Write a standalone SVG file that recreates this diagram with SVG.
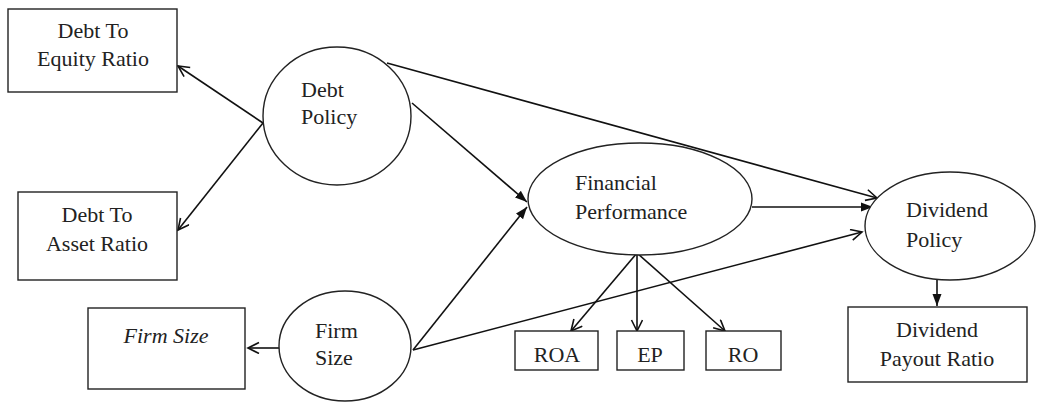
<svg xmlns="http://www.w3.org/2000/svg" width="1037" height="403" viewBox="0 0 1037 403">
<style>
.box{fill:#fff;stroke:#222;stroke-width:1.4}
.ell{fill:#fff;stroke:#222;stroke-width:1.4}
.t{font-family:'Liberation Serif','Times New Roman','DejaVu Serif',Times,serif;font-size:22px;fill:#222}
.c{text-anchor:middle}
.ln{stroke:#111;stroke-width:1.6;fill:none}
.open{marker-end:url(#open)}
.fill{marker-end:url(#fill)}
</style>
<defs>
<marker id="open" markerWidth="14" markerHeight="14" refX="12" refY="6" orient="auto" markerUnits="userSpaceOnUse">
<path d="M1,0.5 L12,6 L1,11.5" fill="none" stroke="#111" stroke-width="1.6"/>
</marker>
<marker id="fill" markerWidth="14" markerHeight="14" refX="12" refY="6" orient="auto" markerUnits="userSpaceOnUse">
<path d="M0,1.5 L12,6 L0,10.5 Z" fill="#111"/>
</marker>
</defs>
<g id="connectors">
<line class="ln open" x1="263" y1="123" x2="178" y2="66"/>
<line class="ln open" x1="263" y1="123" x2="178" y2="230"/>
<line class="ln open" x1="279" y1="348" x2="248" y2="348"/>
<line class="ln fill" x1="412" y1="103" x2="527" y2="202"/>
<line class="ln fill" x1="413" y1="350" x2="527" y2="207"/>
<line class="ln open" x1="387" y1="63" x2="877" y2="198"/>
<line class="ln fill" x1="752" y1="207" x2="873" y2="207"/>
<line class="ln open" x1="413" y1="350" x2="862" y2="232"/>
<line class="ln fill" x1="937" y1="272" x2="937" y2="306"/>
<line class="ln open" x1="637" y1="253" x2="571" y2="331"/>
<line class="ln open" x1="637" y1="253" x2="637" y2="331"/>
<line class="ln open" x1="637" y1="253" x2="725" y2="331"/>
</g>
<g id="debt-to-equity">
<rect class="box" x="8" y="9" width="169" height="83"/>
<text class="t c" x="93" y="38">Debt To</text>
<text class="t c" x="93" y="66">Equity Ratio</text>
</g>
<g id="debt-to-asset">
<rect class="box" x="18" y="192" width="159" height="88"/>
<text class="t c" x="97" y="222">Debt To</text>
<text class="t c" x="97" y="251">Asset Ratio</text>
</g>
<g id="firm-size-box">
<rect class="box" x="88" y="308" width="157" height="81"/>
<text class="t c" x="166" y="343" font-style="italic">Firm Size</text>
</g>
<g id="debt-policy">
<ellipse class="ell" cx="337" cy="116" rx="74" ry="69"/>
<text class="t" x="301" y="97">Debt</text>
<text class="t" x="301" y="124">Policy</text>
</g>
<g id="firm-size">
<ellipse class="ell" cx="345" cy="346" rx="66" ry="55"/>
<text class="t" x="315" y="338">Firm</text>
<text class="t" x="315" y="365">Size</text>
</g>
<g id="financial-performance">
<ellipse class="ell" cx="640" cy="199" rx="112" ry="56"/>
<text class="t" x="575" y="190">Financial</text>
<text class="t" x="575" y="219">Performance</text>
</g>
<g id="dividend-policy">
<ellipse class="ell" cx="950" cy="226" rx="85" ry="54"/>
<text class="t" x="906" y="217">Dividend</text>
<text class="t" x="906" y="247">Policy</text>
</g>
<g id="dividend-payout">
<rect class="box" x="848" y="307" width="179" height="75"/>
<text class="t c" x="937" y="337">Dividend</text>
<text class="t c" x="937" y="366">Payout Ratio</text>
</g>
<g id="roa">
<rect class="box" x="515" y="331" width="83" height="39"/>
<text class="t c" x="557" y="362">ROA</text>
</g>
<g id="ep">
<rect class="box" x="617" y="331" width="67" height="39"/>
<text class="t c" x="650" y="362">EP</text>
</g>
<g id="ro">
<rect class="box" x="706" y="331" width="75" height="39"/>
<text class="t c" x="743" y="362">RO</text>
</g>
</svg>
